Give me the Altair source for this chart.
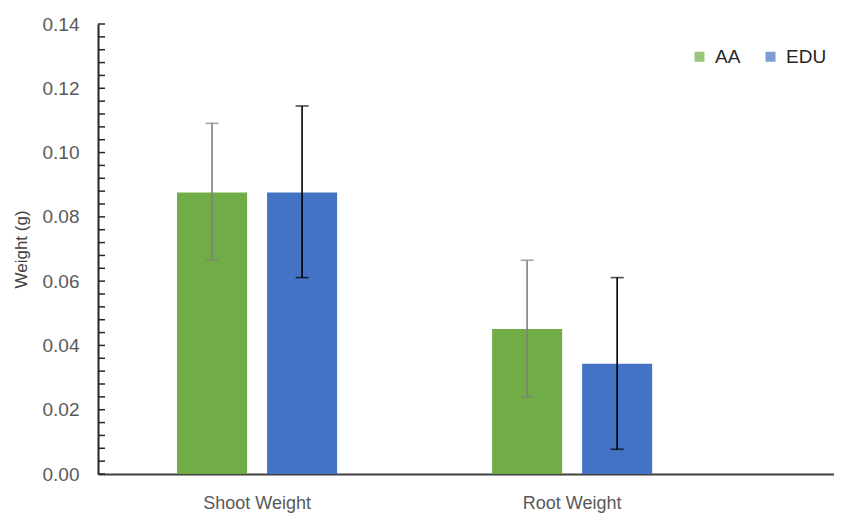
import altair as alt
import pandas as pd

categories = ["Shoot Weight", "Root Weight"]
groups = ["AA", "EDU"]
aa_mean = [0.0876, 0.0451]
edu_mean = [0.0876, 0.0343]
aa_low = [0.0665, 0.0241]
aa_high = [0.1091, 0.0665]
edu_low = [0.0611, 0.0077]
edu_high = [0.1145, 0.0611]
bar_colors = ["#70AD47", "#4472C4"]
err_colors = ["#7F7F7F", "#000000"]
y_ticks_major = [0.0, 0.02, 0.04, 0.06, 0.08, 0.10, 0.12, 0.14]
y_ticks_minor = [round(i * 0.004, 3) for i in range(36)]

rows = []
for i, c in enumerate(categories):
    rows.append(dict(cat=c, grp="AA", mean=aa_mean[i], lo=aa_low[i], hi=aa_high[i], ec=err_colors[0]))
    rows.append(dict(cat=c, grp="EDU", mean=edu_mean[i], lo=edu_low[i], hi=edu_high[i], ec=err_colors[1]))
df = pd.DataFrame(rows)
ticks_df = pd.DataFrame({"v": y_ticks_minor})

FONT = "Liberation Sans"
TXT = "#595959"

xscale = alt.Scale(paddingInner=0.492, paddingOuter=0.414, align=0.303)
xenc = alt.X("cat:N", sort=categories, title=None, scale=xscale,
             axis=alt.Axis(labelAngle=0, ticks=False, domainColor="#404040", domainWidth=2,
                           labelFont=FONT, labelFontSize=18, labelColor=TXT, labelPadding=20))
xoff = alt.XOffset("grp:N", sort=groups, scale=alt.Scale(paddingInner=0.222, paddingOuter=0))
yscale = alt.Scale(domain=[0, 0.14], nice=False)

bars = alt.Chart(df).mark_bar(opacity=1).encode(
    x=xenc,
    xOffset=xoff,
    y=alt.Y("mean:Q", scale=yscale, title="Weight (g)",
            axis=alt.Axis(values=y_ticks_major, format=".2f", ticks=False, grid=False,
                          domainColor="#262626", domainWidth=2,
                          labelFont=FONT, labelFontSize=19, labelColor=TXT, labelPadding=19,
                          titleFont=FONT, titleFontSize=17, titleFontWeight="normal",
                          titleColor="#404040", titlePadding=12)),
    color=alt.Color("grp:N", sort=groups, scale=alt.Scale(domain=groups, range=bar_colors),
                    legend=alt.Legend(title=None, orient="none", legendX=592, legendY=23,
                                      direction="horizontal", symbolType="square", symbolSize=100,
                                      symbolStrokeWidth=0, symbolOpacity=1, labelFont=FONT,
                                      labelFontSize=19, labelColor="#262626", columnPadding=20,
                                      labelOffset=6)),
)

err = alt.Chart(df).mark_rule(strokeWidth=1.6).encode(
    x=alt.X("cat:N", sort=categories, scale=xscale),
    xOffset=xoff,
    y=alt.Y("lo:Q", scale=yscale),
    y2="hi:Q",
    color=alt.Color("ec:N", scale=None),
)
cap_lo = alt.Chart(df).mark_tick(orient="horizontal", size=13, thickness=1.6).encode(
    x=alt.X("cat:N", sort=categories, scale=xscale),
    xOffset=xoff,
    y=alt.Y("lo:Q", scale=yscale),
    color=alt.Color("ec:N", scale=None),
)
cap_hi = alt.Chart(df).mark_tick(orient="horizontal", size=13, thickness=1.6).encode(
    x=alt.X("cat:N", sort=categories, scale=xscale),
    xOffset=xoff,
    y=alt.Y("hi:Q", scale=yscale),
    color=alt.Color("ec:N", scale=None),
)
minor = alt.Chart(ticks_df).mark_rule(color="#262626", strokeWidth=1.5).encode(
    y=alt.Y("v:Q", scale=yscale),
    x=alt.value(0),
    x2=alt.value(7),
)

chart = alt.layer(bars, err, cap_lo, cap_hi, minor).properties(
    width=736, height=450,
    autosize=alt.AutoSizeParams(type="none"),
    padding={"left": 90, "top": 16, "right": 0, "bottom": 40},
).configure_view(stroke=None).configure_axis(grid=False)

chart.save("out.html", embed_options={"renderer": "svg", "actions": False})
